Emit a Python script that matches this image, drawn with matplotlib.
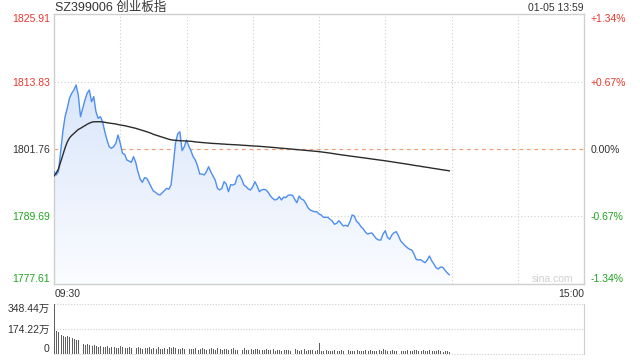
import numpy as np
import matplotlib
matplotlib.use("Agg")
import matplotlib.pyplot as plt
from matplotlib.colors import LinearSegmentedColormap

plt.rcParams['font.family'] = ['Liberation Sans', 'Noto Sans CJK SC']

# chart data
title = 'SZ399006 创业板指'
stamp = '01-05 13:59'
prev_close = 1801.76
price_ticks = [1777.61, 1789.69, 1801.76, 1813.83, 1825.91]
price_labels = ['1777.61', '1789.69', '1801.76', '1813.83', '1825.91']
pct_labels = ['-1.34%', '-0.67%', '0.00%', '+0.67%', '+1.34%']
time_labels = ['09:30', '15:00']
vol_ticks = [0, 174.22, 348.44]
vol_labels = ['0', '174.22万', '348.44万']

price = [
    1797.70, 1797.11, 1797.70, 1801.28, 1804.85, 1807.54, 1809.04, 1810.83, 1811.72, 1812.31,
    1813.21, 1811.42, 1807.54, 1809.04, 1810.53, 1811.72, 1812.31, 1810.22, 1811.12, 1808.43,
    1807.25, 1807.54, 1806.64, 1804.85, 1803.37, 1802.17, 1801.89, 1802.17, 1802.78, 1804.26,
    1802.78, 1800.99, 1800.81, 1799.79, 1799.61, 1799.38, 1800.38, 1799.38, 1797.70, 1796.39,
    1795.80, 1796.63, 1796.52, 1795.80, 1794.96, 1794.25, 1794.01, 1793.66, 1793.53, 1793.94,
    1794.30, 1794.73, 1794.55, 1795.32, 1798.90, 1802.78, 1804.44, 1804.85, 1801.46, 1802.17,
    1803.37, 1802.30, 1801.46, 1800.38, 1799.79, 1798.72, 1797.29, 1797.29, 1797.11, 1797.70,
    1798.59, 1797.70, 1796.93, 1796.21, 1794.73, 1794.43, 1794.73, 1795.91, 1795.50, 1794.12,
    1795.37, 1795.32, 1795.50, 1796.80, 1797.11, 1796.34, 1795.32, 1795.02, 1794.60, 1794.43,
    1795.02, 1795.91, 1795.14, 1794.12, 1794.43, 1794.55, 1794.43, 1794.01, 1793.35, 1792.94,
    1792.64, 1792.76, 1793.23, 1792.64, 1793.17, 1793.05, 1793.48, 1793.53, 1793.48, 1792.76,
    1792.15, 1793.35, 1792.82, 1792.64, 1792.05, 1791.26, 1790.85, 1790.67, 1790.54, 1790.54,
    1790.13, 1789.95, 1789.54, 1789.54, 1789.54, 1789.18, 1788.88, 1788.29, 1788.47, 1788.93,
    1788.47, 1787.99, 1788.11, 1787.93, 1788.75, 1789.95, 1789.77, 1788.83, 1788.47, 1787.86,
    1787.50, 1786.91, 1786.55, 1786.68, 1786.73, 1786.20, 1785.71, 1785.48, 1785.48, 1786.55,
    1787.14, 1785.96, 1785.61, 1786.38, 1786.79, 1786.97, 1786.20, 1785.30, 1784.89, 1784.46,
    1784.10, 1783.82, 1783.69, 1782.98, 1782.03, 1781.90, 1781.96, 1781.67, 1781.42, 1781.90,
    1782.62, 1781.78, 1781.19, 1780.53, 1780.29, 1780.65, 1780.60, 1780.11, 1779.63, 1779.27,
]

avg_price = [
    1796.93, 1797.47, 1798.18, 1799.43, 1800.69, 1801.94, 1803.01, 1803.73, 1804.18, 1804.53,
    1804.89, 1805.25, 1805.46, 1805.70, 1805.96, 1806.18, 1806.38, 1806.54, 1806.63, 1806.64,
    1806.64, 1806.64, 1806.59, 1806.54, 1806.46, 1806.41, 1806.36, 1806.29, 1806.23, 1806.14,
    1806.05, 1806.00, 1805.93, 1805.84, 1805.75, 1805.66, 1805.57, 1805.46, 1805.34, 1805.23,
    1805.11, 1804.98, 1804.85, 1804.71, 1804.57, 1804.39, 1804.26, 1804.12, 1803.98, 1803.85,
    1803.73, 1803.60, 1803.50, 1803.41, 1803.35, 1803.32, 1803.28, 1803.24, 1803.23, 1803.21,
    1803.19, 1803.17, 1803.14, 1803.08, 1803.03, 1802.99, 1802.96, 1802.92, 1802.89, 1802.85,
    1802.82, 1802.78, 1802.76, 1802.74, 1802.71, 1802.69, 1802.65, 1802.64, 1802.60, 1802.58,
    1802.57, 1802.55, 1802.51, 1802.49, 1802.48, 1802.44, 1802.42, 1802.39, 1802.37, 1802.33,
    1802.31, 1802.30, 1802.26, 1802.24, 1802.21, 1802.17, 1802.15, 1802.12, 1802.08, 1802.05,
    1802.01, 1801.97, 1801.94, 1801.90, 1801.87, 1801.83, 1801.80, 1801.76, 1801.72, 1801.69,
    1801.65, 1801.62, 1801.58, 1801.55, 1801.51, 1801.47, 1801.44, 1801.40, 1801.37, 1801.33,
    1801.29, 1801.24, 1801.19, 1801.13, 1801.08, 1801.03, 1800.96, 1800.90, 1800.85, 1800.78,
    1800.72, 1800.67, 1800.61, 1800.56, 1800.51, 1800.45, 1800.40, 1800.35, 1800.29, 1800.24,
    1800.19, 1800.13, 1800.08, 1800.02, 1799.97, 1799.92, 1799.86, 1799.81, 1799.76, 1799.70,
    1799.65, 1799.59, 1799.54, 1799.47, 1799.42, 1799.35, 1799.29, 1799.22, 1799.17, 1799.10,
    1799.04, 1798.97, 1798.92, 1798.84, 1798.79, 1798.72, 1798.67, 1798.59, 1798.54, 1798.47,
    1798.42, 1798.34, 1798.29, 1798.22, 1798.17, 1798.09, 1798.04, 1797.97, 1797.92, 1797.85,
]

# volume in 万
volume = [
    348.44, 158, 150, 132, 124, 120, 122, 116, 110, 106, 100, 97, 102, 72, 66, 68, 60, 58, 63, 56,
    52, 55, 48, 50, 58, 45, 47, 52, 44, 42, 54, 46, 40, 43, 49, 41, 38, 45, 51, 40,
    37, 44, 39, 48, 36, 41, 35, 46, 38, 33, 42, 36, 47, 39, 50, 44, 37, 34, 40, 36,
    45, 38, 33, 35, 42, 31, 37, 44, 34, 30, 36, 40, 32, 29, 43, 35, 31, 38, 33, 28,
    34, 41, 30, 27, 33, 29, 39, 31, 26, 35, 28, 32, 37, 27, 25, 30, 34, 26, 29, 33,
    24, 28, 31, 23, 27, 30, 25, 22, 29, 33, 26, 24, 28, 35, 22, 25, 30, 27, 23, 26,
    75,
    24, 20, 26, 22, 19, 21, 28, 23, 18, 25, 20, 27, 31, 22, 19, 24, 29, 21, 18,
    23, 26, 20, 30, 24, 19, 22, 28, 21, 33, 25, 20, 23, 27, 19, 22, 29, 24, 18, 21,
    26, 20, 23, 31, 25, 19, 22, 27, 20, 24, 29, 21, 18, 23, 26, 20, 17, 22, 19, 12,
]

total_minutes = 240
minutes = np.arange(len(price))

RED = '#e8362d'
GREEN = '#1ea51e'
DARK = '#333333'
GRID = '#cfcfcf'

fig = plt.figure(figsize=(6.4, 3.6), dpi=100)
ax = fig.add_axes([54 / 640, 1 - 284 / 360, 530 / 640, 270 / 360])
vax = fig.add_axes([54 / 640, 1 - 354 / 360, 530 / 640, 50 / 360])

# price panel
lo, hi = price_ticks[0], price_ticks[-1]
ax.set_xlim(0, total_minutes)
ax.set_ylim(lo, hi)

for t in range(30, total_minutes, 30):
    ax.axvline(t, color=GRID, lw=0.8, ls=(0, (1, 2)), zorder=1)
for p in (price_ticks[1], price_ticks[3]):
    ax.axhline(p, color=GRID, lw=0.8, ls=(0, (1, 2)), zorder=1)
ax.axhline(prev_close, color='#f0a070', lw=0.9, ls=(0, (3, 3)), zorder=1)

# gradient fill under the price line
fill = ax.fill_between(minutes, price, lo, color='none', lw=0)
cmap = LinearSegmentedColormap.from_list('fill', ['#fbfcff', '#d9e6fb'])
grad = np.linspace(1, 0, 256).reshape(-1, 1)
img = ax.imshow(grad, extent=[0, total_minutes, lo, max(price)], aspect='auto',
                cmap=cmap, origin='upper', zorder=2)
img.set_clip_path(fill.get_paths()[0], transform=ax.transData)

ax.plot(minutes, price, color='#4d8ef0', lw=1.0, zorder=4)
ax.plot(minutes, avg_price, color='#2b2b2b', lw=1.0, zorder=4)

ax.set_xticks([])
ax.set_yticks(price_ticks)
ax.set_yticklabels(price_labels, fontsize=7.5)
ax.tick_params(axis='y', length=0, pad=3)
colors = [GREEN, GREEN, DARK, RED, RED]
for lab, c in zip(ax.get_yticklabels(), colors):
    lab.set_color(c)
ax.get_yticklabels()[0].set_va('bottom')
ax.get_yticklabels()[-1].set_va('top')
for s in ax.spines.values():
    s.set_color(GRID)
    s.set_linewidth(1.0)

rax = ax.twinx()
rax.set_ylim((lo - prev_close) / prev_close * 100, (hi - prev_close) / prev_close * 100)
rax.set_yticks([(p - prev_close) / prev_close * 100 for p in price_ticks])
rax.set_yticklabels(pct_labels, fontsize=7.5)
rax.tick_params(axis='y', length=0, pad=4.5)
for lab, c in zip(rax.get_yticklabels(), colors):
    lab.set_color(c)
rax.get_yticklabels()[0].set_va('bottom')
rax.get_yticklabels()[-1].set_va('top')
for s in rax.spines.values():
    s.set_visible(False)

fig.text(55 / 640, 1 - 8 / 360, title, fontsize=9, color=DARK, ha='left', va='center')
fig.text(584 / 640, 1 - 8 / 360, stamp, fontsize=7.5, color=DARK, ha='right', va='center')
fig.text(55 / 640, 1 - 294 / 360, time_labels[0], fontsize=7.5, color=DARK, ha='left', va='center')
fig.text(584 / 640, 1 - 294 / 360, time_labels[1], fontsize=7.5, color=DARK, ha='right', va='center')
fig.text(573 / 640, 1 - 279 / 360, 'sina.com', fontsize=7.5, color='#d0d0d0', ha='right', va='center')

# volume panel
vax.set_xlim(0, total_minutes)
vax.set_ylim(0, vol_ticks[-1])
vax.bar(minutes, volume, width=0.45, align='edge', color='#5e5e5e', lw=0)
for v in vol_ticks:
    vax.axhline(v, color=GRID, lw=0.8, ls=(0, (1, 1.5)), zorder=0, clip_on=False)
vax.set_xticks([])
vax.set_yticks(vol_ticks)
vax.set_yticklabels(vol_labels, fontsize=7.5, color=DARK)
vax.tick_params(axis='y', length=0, pad=3)
vax.get_yticklabels()[0].set_va('bottom')
vax.get_yticklabels()[-1].set_va('top')
for name, s in vax.spines.items():
    s.set_visible(name == 'right')
    s.set_color(GRID)

fig.savefig('out.png', dpi=100)
